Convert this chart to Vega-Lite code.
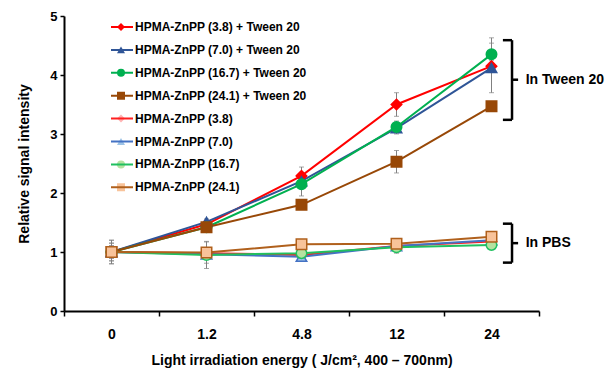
{
  "$schema": "https://vega.github.io/schema/vega-lite/v6.json",
  "width": 475,
  "height": 295,
  "autosize": "none",
  "padding": {"left": 64, "top": 16, "right": 69, "bottom": 59},
  "background": "white",
  "config": {
    "view": {"stroke": null},
    "font": "Liberation Sans",
    "axis": {"grid": false, "labelColor": "black", "titleColor": "black", "domainColor": "black", "tickColor": "black", "labelFontWeight": "bold", "titleFontWeight": "bold", "labelFont": "Liberation Sans", "titleFont": "Liberation Sans"}
  },
  "datasets": {
    "main": [
      {"series": "HPMA-ZnPP (3.8) + Tween 20", "energy": 0, "value": 1.0, "err": 0.2},
      {"series": "HPMA-ZnPP (3.8) + Tween 20", "energy": 1.2, "value": 1.47, "err": 0.05},
      {"series": "HPMA-ZnPP (3.8) + Tween 20", "energy": 4.8, "value": 2.29, "err": 0.15},
      {"series": "HPMA-ZnPP (3.8) + Tween 20", "energy": 12, "value": 3.5, "err": 0.2},
      {"series": "HPMA-ZnPP (3.8) + Tween 20", "energy": 24, "value": 4.15, "err": 0.1},
      {"series": "HPMA-ZnPP (7.0) + Tween 20", "energy": 0, "value": 1.0, "err": 0.15},
      {"series": "HPMA-ZnPP (7.0) + Tween 20", "energy": 1.2, "value": 1.51, "err": 0.05},
      {"series": "HPMA-ZnPP (7.0) + Tween 20", "energy": 4.8, "value": 2.2, "err": 0.1},
      {"series": "HPMA-ZnPP (7.0) + Tween 20", "energy": 12, "value": 3.1, "err": 0.1},
      {"series": "HPMA-ZnPP (7.0) + Tween 20", "energy": 24, "value": 4.12, "err": 0.42},
      {"series": "HPMA-ZnPP (16.7) + Tween 20", "energy": 0, "value": 1.0, "err": 0.1},
      {"series": "HPMA-ZnPP (16.7) + Tween 20", "energy": 1.2, "value": 1.42, "err": 0.08},
      {"series": "HPMA-ZnPP (16.7) + Tween 20", "energy": 4.8, "value": 2.15, "err": 0.2},
      {"series": "HPMA-ZnPP (16.7) + Tween 20", "energy": 12, "value": 3.12, "err": 0.1},
      {"series": "HPMA-ZnPP (16.7) + Tween 20", "energy": 24, "value": 4.35, "err": 0.28},
      {"series": "HPMA-ZnPP (24.1) + Tween 20", "energy": 0, "value": 1.0, "err": 0.1},
      {"series": "HPMA-ZnPP (24.1) + Tween 20", "energy": 1.2, "value": 1.42, "err": 0.08},
      {"series": "HPMA-ZnPP (24.1) + Tween 20", "energy": 4.8, "value": 1.8, "err": 0.05},
      {"series": "HPMA-ZnPP (24.1) + Tween 20", "energy": 12, "value": 2.53, "err": 0.19},
      {"series": "HPMA-ZnPP (24.1) + Tween 20", "energy": 24, "value": 3.47, "err": 0.05},
      {"series": "HPMA-ZnPP (3.8)", "energy": 0, "value": 1.0, "err": 0.2},
      {"series": "HPMA-ZnPP (3.8)", "energy": 1.2, "value": 0.98, "err": 0.05},
      {"series": "HPMA-ZnPP (3.8)", "energy": 4.8, "value": 0.95, "err": 0.05},
      {"series": "HPMA-ZnPP (3.8)", "energy": 12, "value": 1.1, "err": 0.05},
      {"series": "HPMA-ZnPP (3.8)", "energy": 24, "value": 1.18, "err": 0.05},
      {"series": "HPMA-ZnPP (7.0)", "energy": 0, "value": 1.0, "err": 0.1},
      {"series": "HPMA-ZnPP (7.0)", "energy": 1.2, "value": 0.96, "err": 0.05},
      {"series": "HPMA-ZnPP (7.0)", "energy": 4.8, "value": 0.92, "err": 0.05},
      {"series": "HPMA-ZnPP (7.0)", "energy": 12, "value": 1.1, "err": 0.05},
      {"series": "HPMA-ZnPP (7.0)", "energy": 24, "value": 1.2, "err": 0.05},
      {"series": "HPMA-ZnPP (16.7)", "energy": 0, "value": 1.0, "err": 0.15},
      {"series": "HPMA-ZnPP (16.7)", "energy": 1.2, "value": 0.95, "err": 0.23},
      {"series": "HPMA-ZnPP (16.7)", "energy": 4.8, "value": 0.98, "err": 0.05},
      {"series": "HPMA-ZnPP (16.7)", "energy": 12, "value": 1.08, "err": 0.1},
      {"series": "HPMA-ZnPP (16.7)", "energy": 24, "value": 1.12, "err": 0.05},
      {"series": "HPMA-ZnPP (24.1)", "energy": 0, "value": 1.0, "err": 0.1},
      {"series": "HPMA-ZnPP (24.1)", "energy": 1.2, "value": 0.99, "err": 0.18},
      {"series": "HPMA-ZnPP (24.1)", "energy": 4.8, "value": 1.13, "err": 0.05},
      {"series": "HPMA-ZnPP (24.1)", "energy": 12, "value": 1.14, "err": 0.05},
      {"series": "HPMA-ZnPP (24.1)", "energy": 24, "value": 1.26, "err": 0.05}
    ],
    "brackets": [
      {"label": "In Tween 20", "lo": 3.24, "hi": 4.59, "mid": 3.92},
      {"label": "In PBS", "lo": 0.82, "hi": 1.48, "mid": 1.15}
    ]
  },
  "layer": [
    {
      "data": {"name": "main"},
      "encoding": {
        "x": {
          "field": "energy", "type": "ordinal",
          "scale": {"type": "band", "paddingInner": 0, "paddingOuter": 0},
          "axis": {
            "title": "Light irradiation energy ( J/cm², 400 – 700nm)",
            "titleFontSize": 14, "titlePadding": 12,
            "labelFontSize": 14, "labelAngle": 0, "labelPadding": 11,
            "tickBand": "extent", "tickSize": 5, "tickWidth": 1.5, "domainWidth": 2
          }
        },
        "y": {
          "field": "value", "type": "quantitative",
          "scale": {"domain": [0, 5], "nice": false},
          "axis": {
            "title": "Relative signal intensity",
            "titleFontSize": 14, "titlePadding": 18,
            "values": [0, 0.5, 1, 1.5, 2, 2.5, 3, 3.5, 4, 4.5, 5],
            "format": "~g",
            "labelFontSize": 13, "labelPadding": 3,
            "tickSize": 4, "tickWidth": 1.5, "domainWidth": 2
          }
        }
      },
      "layer": [
        {
          "mark": {"type": "errorbar", "ticks": {"size": 5, "color": "#808080"}, "color": "#808080", "thickness": 1},
          "encoding": {
            "yError": {"field": "err"},
            "detail": {"field": "series"}
          }
        },
        {
          "mark": {"type": "line", "strokeWidth": 2},
          "encoding": {
            "stroke": {
              "field": "series", "type": "nominal",
              "scale": {
                "domain": ["HPMA-ZnPP (3.8) + Tween 20", "HPMA-ZnPP (7.0) + Tween 20", "HPMA-ZnPP (16.7) + Tween 20", "HPMA-ZnPP (24.1) + Tween 20", "HPMA-ZnPP (3.8)", "HPMA-ZnPP (7.0)", "HPMA-ZnPP (16.7)", "HPMA-ZnPP (24.1)"],
                "range": ["#FF0000", "#2F5597", "#00B050", "#984807", "#FF2020", "#4472C4", "#20C060", "#B0601C"]
              },
              "legend": {
                "orient": "none", "legendX": 46, "legendY": 5,
                "title": null, "padding": 0,
                "labelFont": "Liberation Sans", "labelFontWeight": "bold", "labelFontSize": 12, "labelColor": "black", "labelLimit": 0, "labelOpacity": 0,
                "symbolType": "stroke", "symbolSize": 484, "symbolStrokeWidth": 2, "labelOffset": 1, "rowPadding": 10.9, "clipHeight": 12
              }
            }
          }
        },
        {
          "mark": {"type": "point", "filled": true, "size": 110, "strokeWidth": 1.5, "opacity": 1, "fillOpacity": 1},
          "encoding": {
            "stroke": {"field": "series", "type": "nominal", "legend": null},
            "fill": {
              "field": "series", "type": "nominal",
              "scale": {
                "domain": ["HPMA-ZnPP (3.8) + Tween 20", "HPMA-ZnPP (7.0) + Tween 20", "HPMA-ZnPP (16.7) + Tween 20", "HPMA-ZnPP (24.1) + Tween 20", "HPMA-ZnPP (3.8)", "HPMA-ZnPP (7.0)", "HPMA-ZnPP (16.7)", "HPMA-ZnPP (24.1)"],
                "range": ["#FF0000", "#2F5597", "#00B050", "#984807", "#FFB3B3", "#9DC3E6", "#B5E2A0", "#F8C39A"]
              },
              "legend": {
                "orient": "none", "legendX": 51, "legendY": 5,
                "title": null, "padding": 0,
                "labelFont": "Liberation Sans", "labelFontWeight": "bold", "labelFontSize": 12, "labelColor": "black", "labelLimit": 0,
                "symbolSize": 64, "symbolStrokeWidth": 1.5, "labelOffset": 8, "rowPadding": 10.9, "clipHeight": 12,
                "encode": {
                  "symbols": {
                    "update": {
                      "stroke": {"signal": "scale('stroke', datum.value)"},
                      "strokeWidth": {"value": 1.5}
                    }
                  }
                }
              }
            },
            "shape": {
              "field": "series", "type": "nominal",
              "scale": {
                "domain": ["HPMA-ZnPP (3.8) + Tween 20", "HPMA-ZnPP (7.0) + Tween 20", "HPMA-ZnPP (16.7) + Tween 20", "HPMA-ZnPP (24.1) + Tween 20", "HPMA-ZnPP (3.8)", "HPMA-ZnPP (7.0)", "HPMA-ZnPP (16.7)", "HPMA-ZnPP (24.1)"],
                "range": ["diamond", "triangle-up", "circle", "square", "diamond", "triangle-up", "circle", "square"]
              }
            }
          }
        }
      ],
      "resolve": {"legend": {"stroke": "independent"}}
    },
    {
      "data": {"name": "brackets"},
      "layer": [
        {
          "mark": {"type": "rule", "strokeWidth": 2.5, "color": "black"},
          "encoding": {
            "x": {"datum": 4.716, "type": "quantitative", "scale": {"domain": [0, 5]}, "axis": null},
            "y": {"field": "lo", "type": "quantitative"},
            "y2": {"field": "hi"}
          }
        },
        {
          "mark": {"type": "rule", "strokeWidth": 2.5, "color": "black"},
          "encoding": {
            "x": {"datum": 4.62, "type": "quantitative"},
            "x2": {"datum": 4.716},
            "y": {"field": "hi", "type": "quantitative"}
          }
        },
        {
          "mark": {"type": "rule", "strokeWidth": 2.5, "color": "black"},
          "encoding": {
            "x": {"datum": 4.62, "type": "quantitative"},
            "x2": {"datum": 4.716},
            "y": {"field": "lo", "type": "quantitative"}
          }
        },
        {
          "mark": {"type": "rule", "strokeWidth": 2.5, "color": "black"},
          "encoding": {
            "x": {"datum": 4.716, "type": "quantitative"},
            "x2": {"datum": 4.78},
            "y": {"field": "mid", "type": "quantitative"}
          }
        },
        {
          "mark": {"type": "text", "align": "left", "baseline": "middle", "font": "Liberation Sans", "fontWeight": "bold", "fontSize": 14, "color": "black"},
          "encoding": {
            "x": {"datum": 4.86, "type": "quantitative"},
            "y": {"field": "mid", "type": "quantitative"},
            "text": {"field": "label"}
          }
        }
      ]
    }
  ],
  "resolve": {"scale": {"x": "independent"}}
}
